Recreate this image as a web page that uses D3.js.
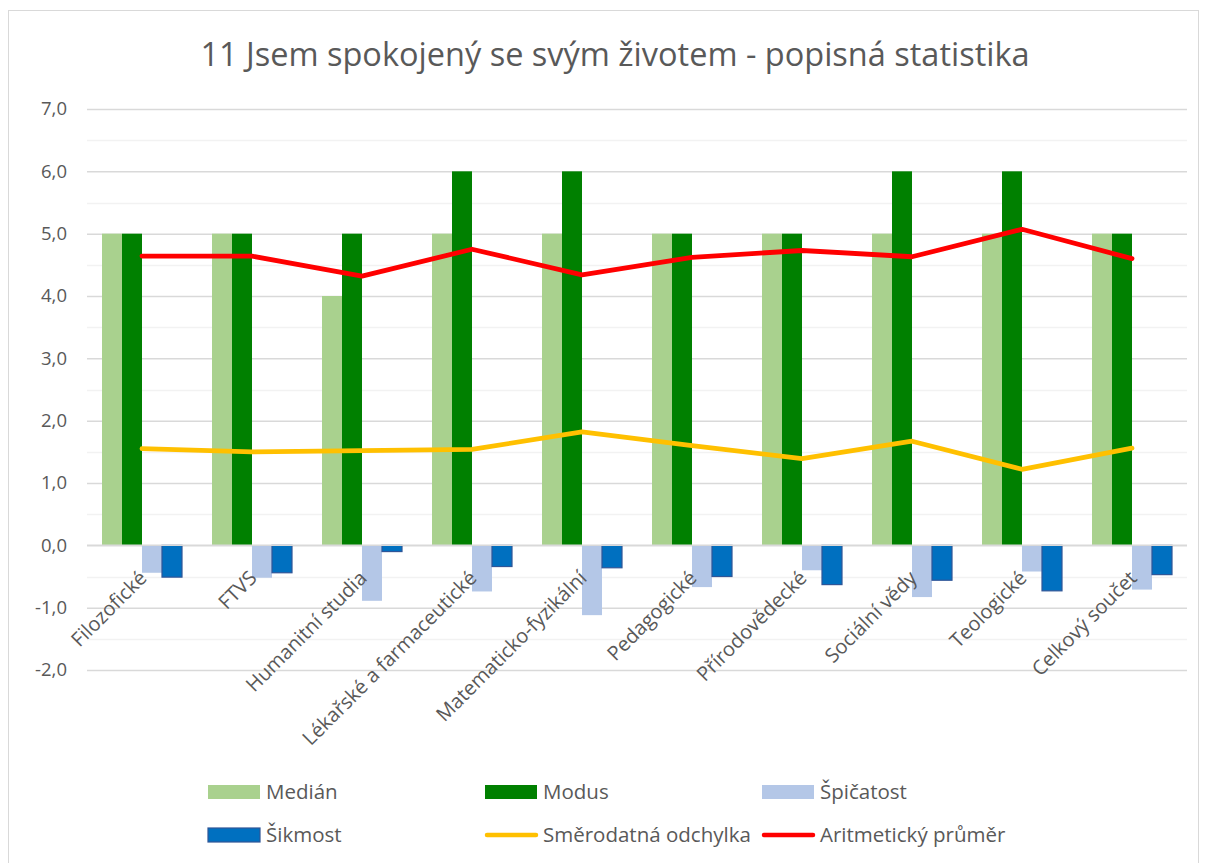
<!DOCTYPE html>
<html>
<head>
<meta charset="utf-8">
<title>11 Jsem spokojený se svým životem</title>
<style>
  body { margin: 0; background: #fff; }
  svg { display: block; font-family: "Open Sans", "Noto Sans", sans-serif; }
</style>
</head>
<body>
<svg id="chart" width="1209" height="863"></svg>
<script src="https://d3js.org/d3.v7.min.js"></script>
<script>
// data
const categories = ["Filozofické", "FTVS", "Humanitní studia", "Lékařské a farmaceutické",
  "Matematicko-fyzikální", "Pedagogické", "Přírodovědecké", "Sociální vědy", "Teologické", "Celkový součet"];
const median   = [5, 5, 4, 5, 5, 5, 5, 5, 5, 5];
const modus    = [5, 5, 5, 6, 6, 5, 5, 6, 6, 5];
const kurtosis = [-0.44, -0.52, -0.89, -0.74, -1.12, -0.67, -0.40, -0.83, -0.42, -0.71];
const skewness = [-0.51, -0.44, -0.10, -0.34, -0.36, -0.50, -0.63, -0.56, -0.73, -0.47];
const stdDev   = [1.55, 1.50, 1.52, 1.54, 1.82, 1.60, 1.39, 1.67, 1.22, 1.56];
const mean     = [4.64, 4.64, 4.32, 4.75, 4.34, 4.62, 4.73, 4.63, 5.07, 4.60];
const yTicks   = [-2, -1, 0, 1, 2, 3, 4, 5, 6, 7];

const barSeries = [
  { name: "Medián", values: median, fill: "#a9d18e", stroke: "none" },
  { name: "Modus", values: modus, fill: "#008000", stroke: "none" },
  { name: "Špičatost", values: kurtosis, fill: "#b4c7e7", stroke: "none" },
  { name: "Šikmost", values: skewness, fill: "#0070c0", stroke: "#2f5597" }
];
const lineSeries = [
  { name: "Směrodatná odchylka", values: stdDev, color: "#ffc000" },
  { name: "Aritmetický průměr", values: mean, color: "#ff0000" }
];

const svg = d3.select("#chart");
const textColor = "#595959";

// chart frame
svg.append("rect")
  .attr("x", 8.5).attr("y", 10.5)
  .attr("width", 1190).attr("height", 880)
  .attr("fill", "#fff").attr("stroke", "#d9d9d9");

const plot = { left: 87, right: 1187, top: 109, bottom: 670 };

const x = d3.scaleBand().domain(categories).range([plot.left, plot.right]).paddingInner(0).paddingOuter(0);
const y = d3.scaleLinear().domain([-2, 7]).range([plot.bottom, plot.top]);
const inner = d3.scaleBand().domain(d3.range(barSeries.length))
  .range([x.bandwidth() / 2 - 40, x.bandwidth() / 2 + 40]);

// minor grid
const minor = d3.range(-1.5, 7, 1);
svg.append("g").selectAll("line").data(minor).join("line")
  .attr("x1", plot.left).attr("x2", plot.right)
  .attr("y1", d => Math.round(y(d)) + 0.5).attr("y2", d => Math.round(y(d)) + 0.5)
  .attr("stroke", "#f2f2f2").attr("stroke-width", 1.5);

// major grid + axis labels
const yAxis = d3.axisLeft(y).tickValues(yTicks)
  .tickFormat(d => d3.format(".1f")(d).replace(".", ",").replace("−", "-"))
  .tickSize(-(plot.right - plot.left)).tickPadding(20);
const gy = svg.append("g").attr("transform", `translate(${plot.left},0)`).call(yAxis);
gy.select(".domain").remove();
gy.selectAll(".tick line").attr("stroke", "#d9d9d9").attr("stroke-width", 1.5);
gy.selectAll(".tick text").attr("fill", textColor).attr("font-size", 18.5)
  .attr("font-family", "'Open Sans', sans-serif");

// bars
barSeries.forEach((s, si) => {
  svg.append("g").selectAll("rect").data(s.values).join("rect")
    .attr("x", (d, i) => x(categories[i]) + inner(si))
    .attr("width", inner.bandwidth())
    .attr("y", d => y(Math.max(0, d)))
    .attr("height", d => Math.abs(y(d) - y(0)))
    .attr("fill", s.fill)
    .attr("stroke", s.stroke)
    .attr("stroke-width", s.stroke === "none" ? 0 : 1.2);
});

// zero line
svg.append("line")
  .attr("x1", plot.left).attr("x2", plot.right)
  .attr("y1", y(0)).attr("y2", y(0))
  .attr("stroke", "#d9d9d9").attr("stroke-width", 1.5);

// lines
const cx = i => x(categories[i]) + x.bandwidth() / 2;
lineSeries.forEach(s => {
  const line = d3.line().x((d, i) => cx(i)).y(d => y(d));
  svg.append("path").datum(s.values)
    .attr("d", line)
    .attr("fill", "none")
    .attr("stroke", s.color)
    .attr("stroke-width", 4.8)
    .attr("stroke-linejoin", "round")
    .attr("stroke-linecap", "round");
});

// category labels
svg.append("g").selectAll("text").data(categories).join("text")
  .attr("transform", (d, i) => `translate(${cx(i) + 6},${y(0) + 34}) rotate(-45)`)
  .attr("text-anchor", "end")
  .attr("fill", textColor)
  .attr("font-size", 20)
  .text(d => d);

// title
svg.append("text")
  .attr("x", 615).attr("y", 66)
  .attr("text-anchor", "middle")
  .attr("fill", textColor)
  .attr("font-size", 32.5)
  .text("11 Jsem spokojený se svým životem - popisná statistika");

// legend
const legendItems = [
  { type: "bar", s: barSeries[0], col: 0, row: 0 },
  { type: "bar", s: barSeries[1], col: 1, row: 0 },
  { type: "bar", s: barSeries[2], col: 2, row: 0 },
  { type: "bar", s: barSeries[3], col: 0, row: 1 },
  { type: "line", s: lineSeries[0], col: 1, row: 1 },
  { type: "line", s: lineSeries[1], col: 2, row: 1 }
];
const colX = [208, 485, 762];
const rowY = [792, 835];
const lg = svg.append("g");
legendItems.forEach(it => {
  const gx = colX[it.col], gyy = rowY[it.row];
  if (it.type === "bar") {
    lg.append("rect")
      .attr("x", gx).attr("y", gyy - 7).attr("width", 52).attr("height", 14)
      .attr("fill", it.s.fill)
      .attr("stroke", it.s.stroke)
      .attr("stroke-width", it.s.stroke === "none" ? 0 : 1.2);
  } else {
    lg.append("line")
      .attr("x1", gx + 2).attr("x2", gx + 51).attr("y1", gyy).attr("y2", gyy)
      .attr("stroke", it.s.color).attr("stroke-width", 4.5).attr("stroke-linecap", "round");
  }
  lg.append("text").attr("x", gx + 58).attr("y", gyy).attr("dy", "0.35em")
    .attr("fill", textColor).attr("font-size", 20.5).text(it.s.name);
});
</script>
</body>
</html>
